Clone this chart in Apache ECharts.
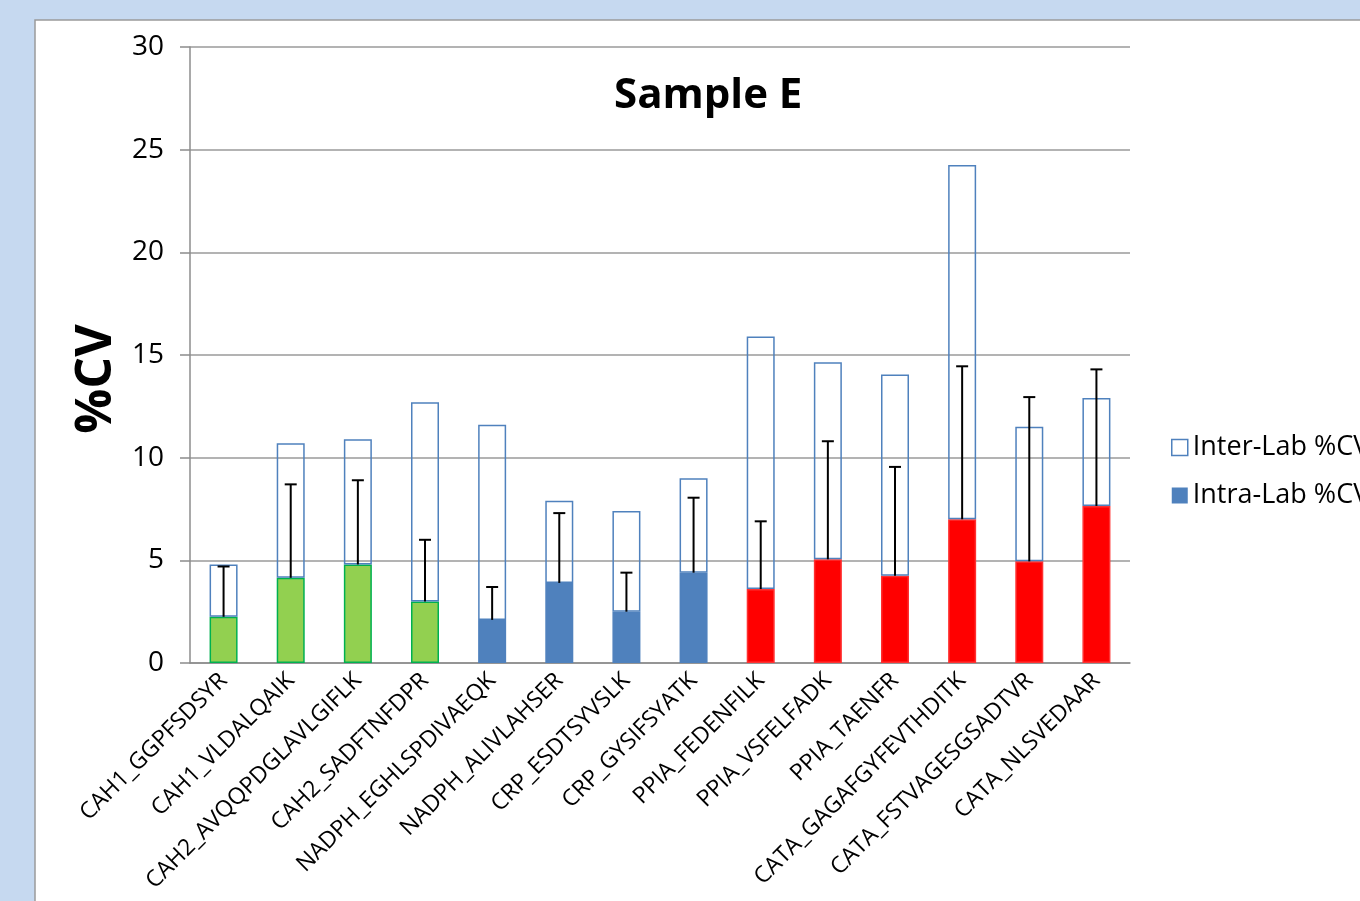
<!DOCTYPE html>
<html>
<head>
<meta charset="utf-8">
<title>Sample E</title>
<script src="https://cdn.jsdelivr.net/npm/echarts@6/dist/echarts.min.js"></script>
<style>
  html, body { margin: 0; padding: 0; background: #c6d9f0; }
  #chart { width: 1360px; height: 901px; }
</style>
</head>
<body>
<div id="chart"></div>
<script>
// peptide categories
var peptides = ['CAH1_GGPFSDSYR', 'CAH1_VLDALQAIK', 'CAH2_AVQQPDGLAVLGIFLK', 'CAH2_SADFTNFDPR',
  'NADPH_EGHLSPDIVAEQK', 'NADPH_ALIVLAHSER', 'CRP_ESDTSYVSLK', 'CRP_GYSIFSYATK',
  'PPIA_FEDENFILK', 'PPIA_VSFELFADK', 'PPIA_TAENFR', 'CATA_GAGAFGYFEVTHDITK',
  'CATA_FSTVAGESGSADTVR', 'CATA_NLSVEDAAR'];
var proteinGroup = ['CAH', 'CAH', 'CAH', 'CAH', 'BLUE', 'BLUE', 'BLUE', 'BLUE',
  'RED', 'RED', 'RED', 'RED', 'RED', 'RED'];
// intra-lab %CV (filled bars)
var intraCV = [2.25, 4.15, 4.8, 3.0, 2.1, 3.9, 2.5, 4.4, 3.6, 5.05, 4.25, 7.0, 4.95, 7.65];
// inter-lab %CV (top of the outlined bars)
var interCV = [4.8, 10.7, 10.9, 12.7, 11.6, 7.9, 7.4, 9.0, 15.9, 14.65, 14.05, 24.25, 11.5, 12.9];
// upper end of the error bars
var errTop = [4.7, 8.7, 8.9, 6.0, 3.7, 7.3, 4.4, 8.05, 6.9, 10.8, 9.55, 14.45, 12.95, 14.3];

var fill = { CAH: '#92d050', BLUE: '#4f81bd', RED: '#ff0000' };
var edge = { CAH: '#00b050', BLUE: '#4f81bd', RED: '#ff3030' };

var chart = echarts.init(document.getElementById('chart'));

var intraData = intraCV.map(function (v, i) {
  return { value: v, itemStyle: { color: fill[proteinGroup[i]], borderColor: edge[proteinGroup[i]], borderWidth: 1.5 } };
});
var interData = interCV.map(function (v, i) { return +(v - intraCV[i]).toFixed(2); });
var errData = errTop.map(function (v, i) { return [i, intraCV[i], v]; });

chart.setOption({
  animation: false,
  backgroundColor: '#c6d9f0',
  textStyle: { fontFamily: '"Open Sans", sans-serif' },
  graphic: [{
    type: 'rect', z: -10, silent: true,
    shape: { x: 35, y: 20, width: 1400, height: 1000 },
    style: { fill: '#ffffff', stroke: '#9a9a9a', lineWidth: 1.5 }
  }, {
    // y-axis title, placed like the original (below the axis midpoint)
    type: 'text', x: 97, y: 379, rotation: Math.PI / 2, silent: true,
    style: {
      text: '%CV', fill: '#000', align: 'center', verticalAlign: 'middle',
      font: 'bold 50px "Open Sans", sans-serif'
    }
  }],
  title: {
    text: 'Sample E', left: 609, top: 70,
    textStyle: { fontSize: 42, fontWeight: 'bold', color: '#000', fontFamily: '"Open Sans", sans-serif' }
  },
  legend: {
    orient: 'vertical', left: 1166, top: 429, itemGap: 21,
    itemWidth: 16, itemHeight: 16,
    textStyle: { fontSize: 27, color: '#000' },
    data: [
      { name: 'Inter-Lab %CV', icon: 'rect', itemStyle: { color: '#fff', borderColor: '#4f81bd', borderWidth: 1.5 } },
      { name: 'Intra-Lab %CV', icon: 'rect', itemStyle: { color: '#4f81bd' } }
    ]
  },
  grid: { left: 190, right: 230, top: 47, bottom: 238 },
  xAxis: {
    type: 'category', data: peptides,
    axisLine: { lineStyle: { color: '#8c8c8c', width: 1.5 } },
    axisTick: { length: 8, lineStyle: { color: '#8c8c8c', width: 1.5 } },
    axisLabel: { rotate: 45, fontSize: 23, color: '#000', margin: 14, interval: 0 }
  },
  yAxis: {
    type: 'value', min: 0, max: 30, interval: 5,
    axisLine: { show: true, lineStyle: { color: '#8c8c8c', width: 1.5 } },
    axisTick: { show: true, length: 10, lineStyle: { color: '#8c8c8c', width: 1.5 } },
    axisLabel: { fontSize: 28, color: '#000', margin: 26 },
    splitLine: { lineStyle: { color: '#9a9a9a', width: 1.5 } }
  },
  series: [
    {
      name: 'Intra-Lab %CV', type: 'bar', stack: 'cv', barWidth: 28,
      itemStyle: { color: '#4f81bd' },
      data: intraData
    },
    {
      name: 'Inter-Lab %CV', type: 'bar', stack: 'cv', barWidth: 28,
      itemStyle: { color: 'rgba(255,255,255,0)', borderColor: '#4f81bd', borderWidth: 1.5 },
      data: interData
    },
    {
      name: 'err', type: 'custom', z: 10,
      renderItem: function (params, api) {
        var lo = api.coord([api.value(0), api.value(1)]);
        var hi = api.coord([api.value(0), api.value(2)]);
        return {
          type: 'group',
          children: [
            { type: 'line', shape: { x1: lo[0], y1: lo[1], x2: hi[0], y2: hi[1] }, style: { stroke: '#000', lineWidth: 2 } },
            { type: 'line', shape: { x1: hi[0] - 6, y1: hi[1], x2: hi[0] + 6, y2: hi[1] }, style: { stroke: '#000', lineWidth: 2 } }
          ]
        };
      },
      encode: { x: 0, y: [1, 2] },
      data: errData
    }
  ]
});
</script>
</body>
</html>
